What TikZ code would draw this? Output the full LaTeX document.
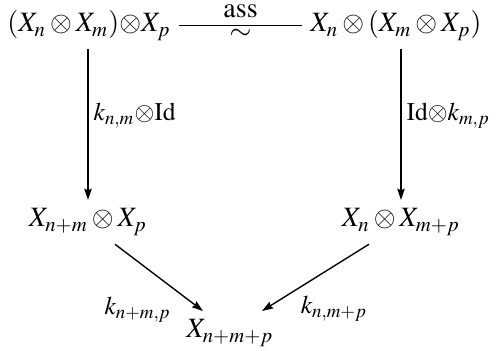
\documentclass[tikz,border=0pt]{standalone}
\usepackage{mathptmx}
\usetikzlibrary{
  arrows.meta
}

\begin{document}
\begin{tikzpicture}[
  x=0.4pt,
  y=-0.4pt,
  font=\fontsize{11.2}{13.5}\selectfont,
  obj/.style={
    anchor=base
  },
  lbl/.style={
    font=\fontsize{10.2}{12}\selectfont,
    inner sep=2pt
  },
  arrow/.style={
    -{Stealth[length=4.5pt,width=3pt,inset=0.6pt]},
    line width=0.55pt
  },
  iso/.style={
    line width=0.55pt
  }
]
\useasboundingbox (0,0) rectangle (496,351);

\node[obj] (tl) at (89,32) {$(X_n\otimes X_m){\otimes}X_p$};
\node[obj] (tr) at (396,32) {$X_n\otimes(X_m\otimes X_p)$};
\node[obj] (ml) at (88,227) {$X_{n+m}\otimes X_p$};
\node[obj] (mr) at (401,227) {$X_n\otimes X_{m+p}$};
\node[obj] (bot) at (230,338) {$X_{n+m+p}$};

\draw[iso] (tl.east) -- node[above=2pt, inner sep=1pt]{$\mathrm{ass}$} node[below, inner sep=1pt]{$\sim$} (tl.east -| tr.west);
\draw[arrow] (ml |- tl.south) -- node[lbl, pos=0.44, right]{$k_{n,m}{\otimes}\mathrm{Id}$} (ml);
\draw[arrow] (mr |- tr.south) -- node[lbl, pos=0.44, right]{$\mathrm{Id}{\otimes}k_{m,p}$} (mr);
\draw[arrow] ([xshift=10.8pt]ml.south) -- node[lbl, pos=0.7, below left]{$k_{n+m,p}$} ([xshift=-10.8pt]bot.north);
\draw[arrow] ([xshift=-12.8pt]mr.south) -- node[lbl, pos=0.69, below right]{$k_{n,m+p}$} ([xshift=12.8pt]bot.north);

\end{tikzpicture}
\end{document}
